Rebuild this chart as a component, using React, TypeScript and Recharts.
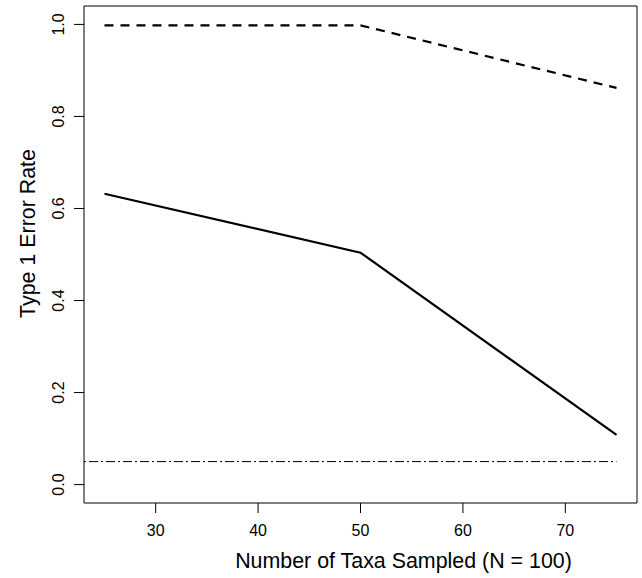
import { LineChart, Line, XAxis, YAxis, ReferenceArea, Label } from "recharts"

// Sample sizes (number of taxa) and the two error-rate curves
const taxa = [25, 50, 75]
const dashedRate = [0.998, 0.998, 0.862]
const solidRate = [0.632, 0.504, 0.108]

// Nominal alpha level line, drawn from the left edge to the last sample
const alphaLevel = 0.05
const alphaSpan = [23, 75]

const xTicks = [30, 40, 50, 60, 70]
const yTicks = [0, 0.2, 0.4, 0.6, 0.8, 1.0]

const dashedData = taxa.map((x, i) => ({ x, y: dashedRate[i] }))
const solidData = taxa.map((x, i) => ({ x, y: solidRate[i] }))
const alphaData = alphaSpan.map((x) => ({ x, y: alphaLevel }))

const FONT = "'Liberation Sans', Arial, Helvetica, sans-serif"

const XTick = ({ x, y, payload }: any) => (
  <text x={x} y={y + 21} textAnchor="middle" fontSize={16} fontFamily={FONT} fill="#000">
    {payload.value}
  </text>
)

const YTick = ({ x, y, payload }: any) => (
  <text
    x={0}
    y={0}
    transform={`translate(${x - 8},${y}) rotate(-90)`}
    textAnchor="middle"
    fontSize={16}
    fontFamily={FONT}
    fill="#000"
  >
    {Number(payload.value).toFixed(1)}
  </text>
)

export default function App() {
  return (
    <div style={{ position: "absolute", left: 0, top: 0, width: 642, height: 578, background: "#fff" }}>
      <LineChart width={642} height={578} margin={{ top: 6, right: 5, bottom: 0, left: 0 }}>
        <XAxis
          type="number"
          dataKey="x"
          domain={[23, 77]}
          ticks={xTicks}
          tickSize={10}
          axisLine={false}
          tickLine={{ stroke: "#000" }}
          tick={<XTick />}
          height={75}
          allowDataOverflow
        >
          <Label
            content={({ viewBox }: any) => (
              <text
                x={viewBox.x + viewBox.width / 2 + 43}
                y={viewBox.y + 65}
                textAnchor="middle"
                fontSize={21.4}
                fontFamily={FONT}
                fill="#000"
              >
                Number of Taxa Sampled (N = 100)
              </text>
            )}
          />
        </XAxis>
        <YAxis
          type="number"
          dataKey="y"
          domain={[-0.04, 1.04]}
          ticks={yTicks}
          tickSize={10}
          axisLine={false}
          tickLine={{ stroke: "#000" }}
          tick={<YTick />}
          width={84}
          allowDataOverflow
        >
          <Label
            content={({ viewBox }: any) => (
              <text
                x={0}
                y={0}
                transform={`translate(35,${viewBox.y + viewBox.height / 2 - 21}) rotate(-90)`}
                textAnchor="middle"
                fontSize={21.4}
                fontFamily={FONT}
                fill="#000"
              >
                Type 1 Error Rate
              </text>
            )}
          />
        </YAxis>
        <ReferenceArea x1={23} x2={77} y1={-0.04} y2={1.04} fill="none" stroke="#000" strokeWidth={1} ifOverflow="visible" />
        <Line
          data={alphaData}
          dataKey="y"
          stroke="#000"
          strokeWidth={1}
          strokeDasharray="2 3 9 3"
          dot={false}
          isAnimationActive={false}
        />
        <Line
          data={dashedData}
          dataKey="y"
          stroke="#000"
          strokeWidth={2.2}
          strokeDasharray="9 7"
          dot={false}
          isAnimationActive={false}
        />
        <Line data={solidData} dataKey="y" stroke="#000" strokeWidth={2.2} dot={false} isAnimationActive={false} />
      </LineChart>
    </div>
  )
}
